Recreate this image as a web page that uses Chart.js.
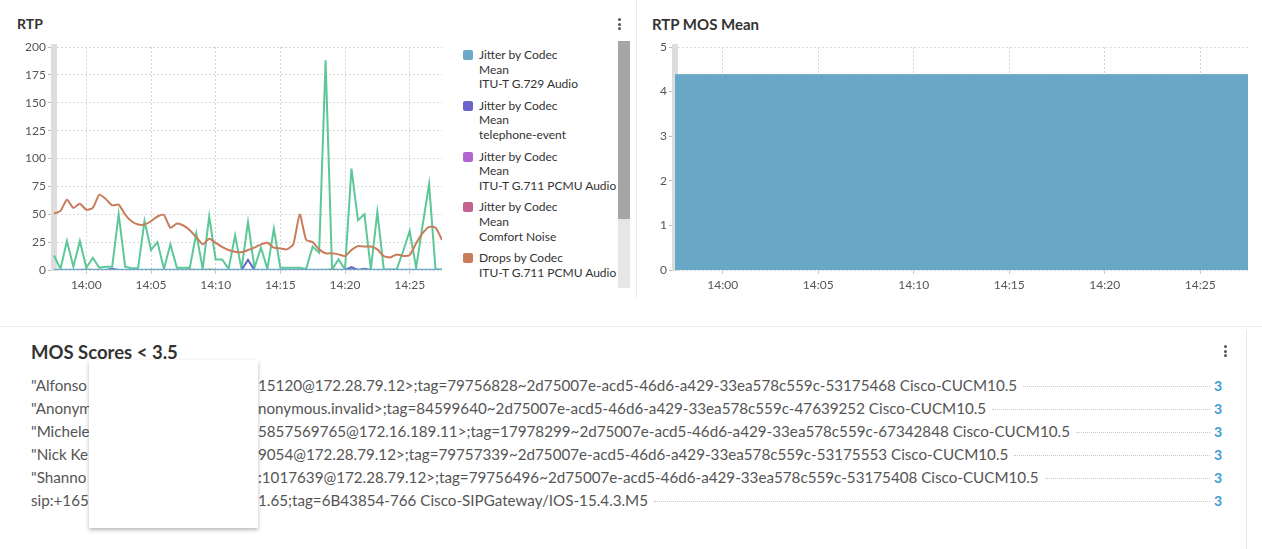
<!DOCTYPE html>
<html>
<head>
<meta charset="utf-8">
<script src="https://cdn.jsdelivr.net/npm/chart.js@4.4.1/dist/chart.umd.min.js"></script>
<style>
  body { margin: 0; background: #fff; font-family: Lato, "Open Sans", sans-serif; color: #333; }
  #page { position: relative; width: 1262px; height: 549px; overflow: hidden; }
  .abs { position: absolute; }
  .title { font-weight: 700; color: #333; white-space: nowrap; }
  .kebab { position: absolute; width: 3px; }
  .kebab i { display: block; width: 3px; height: 3px; border-radius: 50%; background: #555; margin-bottom: 1.5px; }
  #legend { left: 463px; top: 48px; width: 160px; height: 240px; overflow: hidden; font-size: 12px; color: #333; }
  .item { position: relative; padding-left: 16px; margin-bottom: 7px; line-height: 14.6px; white-space: nowrap; }
  .item .box { position: absolute; left: 0; top: 2px; width: 10px; height: 10px; border-radius: 2px; }
  .row { position: absolute; left: 0; width: 1230px; height: 18px; font-size: 15.2px; color: #555; }
  .row .head { position: absolute; left: 31px; top: 0; white-space: nowrap; }
  .row .rest { position: absolute; left: 258px; right: 8px; top: 0; display: flex; align-items: center; white-space: nowrap; }
  .row .lead { flex: 1; border-top: 1px dotted #c8c8c8; margin: 2px 4px 0 6px; }
  .row .val { color: #3b9bd3; font-weight: 700; font-size: 14px; }
</style>
</head>
<body>
<div id="page">
  <div class="abs title" style="left:17px;top:15px;font-size:14px;">RTP</div>
  <div class="kebab" style="left:618px;top:18px;"><i></i><i></i><i></i></div>
  <canvas id="rtpChart" class="abs" style="left:0;top:0;" width="442" height="300"></canvas>
  <div id="legend" class="abs"></div>
  <div class="abs" style="left:618px;top:41px;width:12px;height:247px;background:#e6e6e6;"></div>
  <div class="abs" style="left:618px;top:41px;width:12px;height:178px;background:#a5a5a5;"></div>
  <div class="abs" style="left:636px;top:0;width:1px;height:298px;background:#ececec;"></div>

  <div class="abs title" style="left:652px;top:15px;font-size:15px;">RTP MOS Mean</div>
  <canvas id="mosChart" class="abs" style="left:600px;top:0;" width="648" height="300"></canvas>

  <div class="abs" style="left:0;top:326px;width:1262px;height:1px;background:#ececec;"></div>
  <div class="abs" style="left:1246px;top:330px;width:1px;height:219px;background:#e6e6e6;"></div>
  <div class="abs title" style="left:31px;top:341px;font-size:18.5px;">MOS Scores &lt; 3.5</div>
  <div class="kebab" style="left:1224px;top:345px;"><i></i><i></i><i></i></div>
  <div id="rows"></div>
  <div class="abs" style="left:89px;top:360px;width:169px;height:168px;background:#fff;box-shadow:0 2px 4px rgba(0,0,0,0.28);"></div>
</div>
<script>
// Horaires (toutes les 30 s)
const times = [
  '13:57:30','13:58:00','13:58:30','13:59:00','13:59:30','14:00:00','14:00:30','14:01:00','14:01:30','14:02:00',
  '14:02:30','14:03:00','14:03:30','14:04:00','14:04:30','14:05:00','14:05:30','14:06:00','14:06:30','14:07:00',
  '14:07:30','14:08:00','14:08:30','14:09:00','14:09:30','14:10:00','14:10:30','14:11:00','14:11:30','14:12:00',
  '14:12:30','14:13:00','14:13:30','14:14:00','14:14:30','14:15:00','14:15:30','14:16:00','14:16:30','14:17:00',
  '14:17:30','14:18:00','14:18:30','14:19:00','14:19:30','14:20:00','14:20:30','14:21:00','14:21:30','14:22:00',
  '14:22:30','14:23:00','14:23:30','14:24:00','14:24:30','14:25:00','14:25:30','14:26:00','14:26:30','14:27:00',
  '14:27:30'
];

const jitterG729 = [
  0.3,0.3,0.3,0.3,0.3,0.3,0.3,0.3,0.3,0.3, 0.3,0.3,0.3,0.3,0.3,0.3,0.3,0.3,0.3,0.3,
  0.3,0.3,0.3,0.3,0.3,0.3,0.3,0.3,0.3,0.3, 0.3,0.3,0.3,0.3,0.3,0.3,0.3,0.3,0.3,0.3,
  0.3,0.3,0.3,0.3,0.3,0.3,0.3,0.3,0.3,0.3, 0.3,0.3,0.3,0.3,0.3,0.3,0.3,0.3,0.3,0.3, 0.3
];
const jitterTelEvent = [
  0,0,0,0,0,0,0,0,0,1.2, 0,0,0,0,0,0,0,0,0,0,
  0,0,0,0,0,0,0,0,0,0, 9,0,0,0,0,0,0,0,0,0,
  0,0,0,0,0,0,2.5,0,1,0, 0,0,0,0,0,0,0,0,0,0, 0
];
const jitterG711 = [
  0,0,0,0,0,0,0,0,0,0, 0,0,0,0,0,0,0,0,0,0, 0,0,0,0,0,0,0,0,0,0,
  0,0,0,0,0,0,0,0,0,0, 0,0,0,0,0,0,0,0,0,0, 0,0,0,0,0,0,0,0,0,0, 0
];
const jitterComfort = [
  0,0,0,0,0,0,0,0,0,0, 0,0,0,0,0,0,0,0,0,0, 0,0,0,0,0,0,0,0,0,0,
  0,0,0,0,0,0,0,0,0,0, 0,0,0,0,0,0,0,0,0,0, 0,0,0,0,0,0,0,0,0,0, 0
];
const dropsG711 = [
  50.6,53,63,55.7,59.5,54,55.7,67.5,63.7,58, 58.6,49.7,43.7,40.8,40.8,43.7,48,49.4,37.8,41.7,
  39.9,35.7,29.5,23,28,24.4,20.8,17.9,16.4,16, 17.9,20,23,24.4,20,19.3,18.5,23,49.7,27,
  25,18.5,15,15,14,12.5,18,21.4,21,21, 18.5,12.5,11.3,14,12.5,13.4,24,33,38.7,38, 27
];
const dropsG729 = [
  13,1,26,3,26,2,11,2,3,3, 50,3,1.5,1.5,44,18,25,1,23,2,
  2,2,33,1,48,9.5,9.5,1,31,1, 43,2,20,1,37,2,2,2,2,1,
  21,15.5,188,0.5,9.5,0.5,91,44.6,50,0.5, 52,0.5,0.5,0.5,17,35,2,40,77,0.5, 0.5
];
const dropsTelEvent = [
  0,0,0,0,0,0.6,0,0,0,0, 0,0,0,0,0,0,0,0,0,0,
  0,0.6,0,0,0.6,0,0,0,0,0, 0,0,0,0,0,0,0,0,0,0,
  0,0,0,0.8,0,0,0.8,0,0,0, 0,0,0,0,0,0,0,0,0,0, 0
];
const mosMean = [
  4.38,4.38,4.38,4.38,4.38,4.38,4.38,4.38,4.38,4.38, 4.38,4.38,4.38,4.38,4.38,4.38,4.38,4.38,4.38,4.38,
  4.38,4.38,4.38,4.38,4.38,4.38,4.38,4.38,4.38,4.38, 4.38,4.38,4.38,4.38,4.38,4.38,4.38,4.38,4.38,4.38,
  4.38,4.38,4.38,4.38,4.38,4.38,4.38,4.38,4.38,4.38, 4.38,4.38,4.38,4.38,4.38,4.38,4.38,4.38,4.38,4.38, 4.38
];

// Liste MOS < 3.5
const rowHeads = ['"Alfonso', '"Anonym', '"Michele', '"Nick Ke', '"Shanno', 'sip:+165'];
const rowTails = [
  '15120@172.28.79.12>;tag=79756828~2d75007e-acd5-46d6-a429-33ea578c559c-53175468 Cisco-CUCM10.5',
  'nonymous.invalid>;tag=84599640~2d75007e-acd5-46d6-a429-33ea578c559c-47639252 Cisco-CUCM10.5',
  '5857569765@172.16.189.11>;tag=17978299~2d75007e-acd5-46d6-a429-33ea578c559c-67342848 Cisco-CUCM10.5',
  '9054@172.28.79.12>;tag=79757339~2d75007e-acd5-46d6-a429-33ea578c559c-53175553 Cisco-CUCM10.5',
  ':1017639@172.28.79.12>;tag=79756496~2d75007e-acd5-46d6-a429-33ea578c559c-53175408 Cisco-CUCM10.5',
  '1.65;tag=6B43854-766 Cisco-SIPGateway/IOS-15.4.3.M5'
];
const rowScores = [3, 3, 3, 3, 3, 3];

const tickFont = { family: 'Lato', size: 12 };

function timeTick(v, i) {
  const t = times[i];
  const m = parseInt(t.slice(3, 5), 10);
  if (t.endsWith(':00') && m % 5 === 0) return t.slice(0, 5);
  return null;
}

function line(label, data, color, tension) {
  return { label: label, data: data, borderColor: color, backgroundColor: color,
           borderWidth: 2, pointRadius: 0, tension: tension || 0, fill: false };
}

// Graphique RTP
const rtpChart = new Chart(document.getElementById('rtpChart'), {
  type: 'line',
  data: {
    labels: times,
    datasets: [
      line('Jitter by Codec\nMean\nITU-T G.729 Audio', jitterG729, '#6aaac8'),
      line('Jitter by Codec\nMean\ntelephone-event', jitterTelEvent, '#6a63c9'),
      line('Jitter by Codec\nMean\nITU-T G.711 PCMU Audio', jitterG711, '#b066cf'),
      line('Jitter by Codec\nMean\nComfort Noise', jitterComfort, '#c4628f'),
      line('Drops by Codec\nITU-T G.711 PCMU Audio', dropsG711, '#c97c5b', 0.2),
      line('Drops by Codec\nITU-T G.729 Audio', dropsG729, '#5cc897'),
      line('Drops by Codec\ntelephone-event', dropsTelEvent, '#d8cf6a')
    ]
  },
  options: {
    responsive: false,
    animation: false,
    layout: { padding: { left: 0, top: 47, right: 0, bottom: 0 } },
    plugins: { legend: { display: false }, tooltip: { enabled: false } },
    scales: {
      x: {
        grid: { color: '#d6d6d6', tickLength: 4, tickColor: '#c8c8c8' },
        border: { display: false, dash: [2, 2] },
        ticks: { autoSkip: false, maxRotation: 0, color: '#555', font: tickFont, padding: 4, callback: timeTick },
        afterFit: s => { s.height = 30; }
      },
      y: {
        min: 0, max: 200,
        grid: { color: '#d6d6d6', tickLength: 6, tickColor: '#bbb' },
        border: { width: 6, color: '#dddddd', dash: [2, 2] },
        ticks: { stepSize: 25, color: '#555', font: tickFont, padding: 2 },
        afterFit: s => { s.width = 54; }
      }
    }
  }
});

// Légende HTML construite à partir des jeux de données
const legendEl = document.getElementById('legend');
rtpChart.data.datasets.forEach(ds => {
  const item = document.createElement('div');
  item.className = 'item';
  item.innerHTML = '<span class="box" style="background:' + ds.borderColor + '"></span>' +
    ds.label.split('\n').join('<br>');
  legendEl.appendChild(item);
});

// Graphique MOS
new Chart(document.getElementById('mosChart'), {
  type: 'line',
  data: {
    labels: times,
    datasets: [{
      label: 'MOS Mean', data: mosMean, borderColor: '#68a8c6', backgroundColor: '#68a8c6',
      borderWidth: 1, pointRadius: 0, fill: 'origin'
    }]
  },
  options: {
    responsive: false,
    animation: false,
    layout: { padding: { left: 0, top: 47, right: 0, bottom: 0 } },
    plugins: { legend: { display: false }, tooltip: { enabled: false } },
    scales: {
      x: {
        z: 1,
        grid: { color: 'rgba(200,200,200,0.8)', tickLength: 4, tickColor: '#c8c8c8' },
        border: { display: false, dash: [2, 2] },
        ticks: { autoSkip: false, maxRotation: 0, color: '#555', font: tickFont, padding: 4, callback: timeTick },
        afterFit: s => { s.height = 30; }
      },
      y: {
        z: 1,
        min: 0, max: 5,
        grid: { color: 'rgba(200,200,200,0.6)', tickLength: 6, tickColor: '#bbb' },
        border: { width: 6, color: '#dddddd', dash: [2, 2] },
        ticks: { stepSize: 1, color: '#555', font: tickFont, padding: 2 },
        afterFit: s => { s.width = 75; }
      }
    }
  }
});

// Lignes de la liste
const rowsEl = document.getElementById('rows');
rowHeads.forEach((h, i) => {
  const r = document.createElement('div');
  r.className = 'row';
  r.style.top = (376 + i * 23) + 'px';
  r.innerHTML = '<span class="head">' + h.replace(/</g, '&lt;') + '</span>' +
    '<div class="rest"><span>' + rowTails[i].replace(/</g, '&lt;').replace(/>/g, '&gt;') + '</span>' +
    '<span class="lead"></span><span class="val">' + rowScores[i] + '</span></div>';
  rowsEl.appendChild(r);
});
</script>
</body>
</html>
